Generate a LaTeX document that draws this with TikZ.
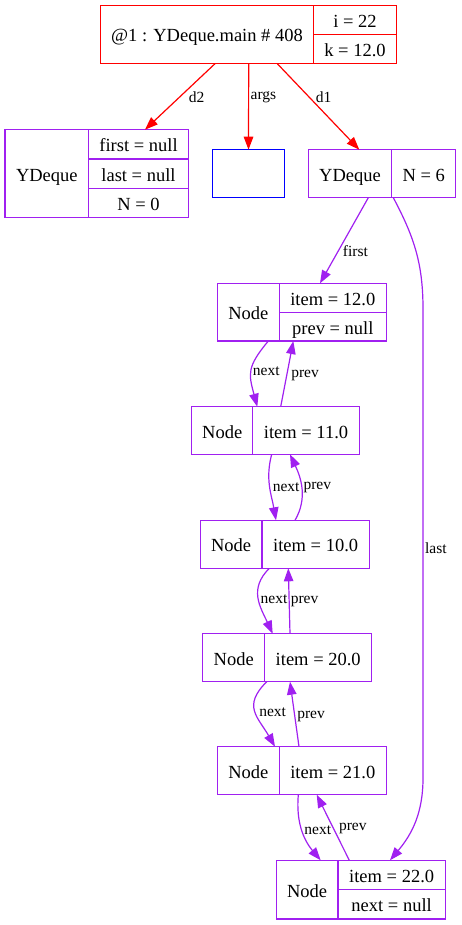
\documentclass[tikz,border=0pt]{standalone}
\usepackage{fontspec}
\setmainfont{Liberation Serif}
\usetikzlibrary{arrows.meta,positioning}
\definecolor{gvred}{RGB}{255,0,0}
\definecolor{gvpurple}{RGB}{160,32,240}
\definecolor{gvblue}{RGB}{0,0,255}
\newcommand\recfont{\fontsize{18.5}{22}\selectfont}
\newcommand\edgefont{\fontsize{15.5}{18}\selectfont}

\begin{document}
\begin{tikzpicture}[x=1pt, y=1pt,
    frame/.style={draw=#1, line width=1.2pt, inner sep=0pt, outer sep=0pt},
    rcell/.style={frame=gvred, font=\recfont, text height=15pt, text depth=0pt},
    pcell/.style={frame=gvpurple, font=\recfont, text height=15pt, text depth=0pt},
    redge/.style={gvred, line width=1.2pt, -{Triangle[length=13pt, width=9.5pt]}},
    pedge/.style={gvpurple, line width=1.2pt, -{Triangle[length=13pt, width=9.5pt]}},
    lbl/.style={text=black, font=\edgefont, inner sep=0.5pt}]
    \useasboundingbox (0,0) rectangle (461,-925);

    \node[frame=gvred, minimum width=296pt, minimum height=58.4pt] (main) at (248.7,-34.5) {};
    \node[rcell, minimum width=212.6pt, minimum height=58.4pt] (mainname) at (207,-34.5) {@1 : YDeque.main \# 408};
    \node[rcell, minimum width=83.4pt, minimum height=29.2pt] (maini) at (355,-19.9) {i = 22};
    \node[rcell, minimum width=83.4pt, minimum height=29.2pt] (maink) at (355,-49.1) {k = 12.0};

    \node[frame=gvpurple, minimum width=183.3pt, minimum height=88pt] (d2box) at (96.65,-173.7) {};
    \node[pcell, minimum width=83.7pt, minimum height=88pt] (d2name) at (46.85,-173.7) {YDeque};
    \node[pcell, minimum width=99.6pt, minimum height=29.33pt] (d2first) at (138.5,-144.35) {first = null};
    \node[pcell, minimum width=99.6pt, minimum height=29.33pt] (d2last) at (138.5,-173.65) {last = null};
    \node[pcell, minimum width=99.6pt, minimum height=29.33pt] (d2n) at (138.5,-203) {N = 0};

    \node[frame=gvblue, minimum width=71.6pt, minimum height=48pt] (argsbox) at (248.5,-173.7) {};

    \node[frame=gvpurple, minimum width=147.4pt, minimum height=48pt] (d1box) at (382,-173.7) {};
    \node[pcell, minimum width=83.4pt, minimum height=48pt] (d1name) at (350,-173.7) {YDeque};
    \node[pcell, minimum width=64pt, minimum height=48pt] (d1n) at (423.7,-173.7) {N = 6};

    \node[frame=gvpurple, minimum width=169pt, minimum height=57.7pt] (n1) at (301.8,-312.2) {};
    \node[pcell, minimum width=62pt, minimum height=57.7pt] (n1name) at (248.3,-312.2) {Node};
    \node[pcell, minimum width=107pt, minimum height=29pt] (n1item) at (332.8,-297.8) {item = 12.0};
    \node[pcell, minimum width=107pt, minimum height=28.7pt] (n1prev) at (332.8,-326.65) {prev = null};

    \node[frame=gvpurple, minimum width=167.6pt, minimum height=47.6pt] (n2) at (275.5,-430.5) {};
    \node[pcell, minimum width=61pt, minimum height=47.6pt] (n2name) at (222.2,-430.5) {Node};
    \node[pcell, minimum width=106.6pt, minimum height=47.6pt] (n2item) at (306,-430.5) {item = 11.0};

    \node[frame=gvpurple, minimum width=169pt, minimum height=48pt] (n3) at (284.8,-544.3) {};
    \node[pcell, minimum width=61.7pt, minimum height=48pt] (n3name) at (231.15,-544.3) {Node};
    \node[pcell, minimum width=107.3pt, minimum height=48pt] (n3item) at (315.65,-544.3) {item = 10.0};

    \node[frame=gvpurple, minimum width=169pt, minimum height=48pt] (n4) at (287.2,-657.7) {};
    \node[pcell, minimum width=62pt, minimum height=48pt] (n4name) at (233.7,-657.7) {Node};
    \node[pcell, minimum width=107pt, minimum height=48pt] (n4item) at (318.2,-657.7) {item = 20.0};

    \node[frame=gvpurple, minimum width=169pt, minimum height=48pt] (n5) at (301.8,-770.7) {};
    \node[pcell, minimum width=62pt, minimum height=48pt] (n5name) at (248.3,-770.7) {Node};
    \node[pcell, minimum width=107pt, minimum height=48pt] (n5item) at (332.8,-770.7) {item = 21.0};

    \node[frame=gvpurple, minimum width=169pt, minimum height=58.7pt] (n6) at (360.8,-889.65) {};
    \node[pcell, minimum width=61.7pt, minimum height=58.7pt] (n6name) at (307.15,-889.65) {Node};
    \node[pcell, minimum width=107.3pt, minimum height=29.4pt] (n6item) at (391.65,-875) {item = 22.0};
    \node[pcell, minimum width=107.3pt, minimum height=29.3pt] (n6next) at (391.65,-904.35) {next = null};

    \coordinate (lasttop) at (423,-309);
    \coordinate (lastbot) at (423,-778);

    \draw[redge] ([xshift=-33.7pt]main.south) -- node[lbl, pos=.51, right=8.5pt] {d2} ([xshift=48.3pt]d2box.north);
    \draw[redge] (main.south) -- node[lbl, pos=.39, right=1pt] {args} (argsbox.north);
    \draw[redge] ([xshift=28.6pt]main.south) -- node[lbl, pos=.39, right=5.5pt] {d1} ([xshift=-22.7pt]d1box.north);

    \draw[pedge] ([xshift=-13.7pt]d1box.south) -- node[lbl, pos=.62, right=3.5pt] {first} ([xshift=18.2pt]n1.north);
    \draw[pedge] ([xshift=11.3pt]d1box.south) to[out=-62, in=90] (lasttop) -- node[lbl, pos=.51, right=1pt] {last} (lastbot) to[out=-90, in=50] ([xshift=29.2pt]n6.north);

    \draw[pedge] ([xshift=-33.5pt]n1.south) to[out=-130, in=105, looseness=1.3] node[lbl, right=0.5pt] {next} ([xshift=-18.2pt]n2.north);
    \draw[pedge] ([xshift=5.2pt]n2.north) -- node[lbl, pos=.47, right=3.6pt] {prev} ([xshift=-8.5pt]n1.south);

    \draw[pedge] ([xshift=-3.8pt]n2.south) to[out=-105, in=100] node[lbl, right=2pt] {next} ([xshift=-8.8pt]n3.north);
    \draw[pedge] ([xshift=10.2pt]n3.north) to[out=60, in=-65] node[lbl, right=1pt] {prev} ([xshift=14.5pt]n2.south);

    \draw[pedge] ([xshift=-15.5pt]n3.south) to[out=-135, in=115, looseness=1.15] node[lbl, right=1pt] {next} ([xshift=-14.5pt]n4.north);
    \draw[pedge] ([xshift=2.8pt]n4.north) -- node[lbl, right=0.5pt] {prev} ([xshift=3.5pt]n3.south);

    \draw[pedge] ([xshift=-20.5pt]n4.south) to[out=-135, in=120, looseness=1.35] node[lbl, right=3pt] {next} ([xshift=-26.8pt]n5.north);
    \draw[pedge] ([xshift=-2.8pt]n5.north) -- node[lbl, pos=.47, right=1.4pt] {prev} ([xshift=2.8pt]n4.south);

    \draw[pedge] ([xshift=-3.5pt]n5.south) to[out=-95, in=130] node[lbl, right=1.2pt] {next} ([xshift=-40.1pt]n6.north);
    \draw[pedge] ([xshift=-11.5pt]n6.north) -- node[lbl, pos=.49, right=4.6pt] {prev} ([xshift=14.9pt]n5.south);
\end{tikzpicture}
\end{document}
